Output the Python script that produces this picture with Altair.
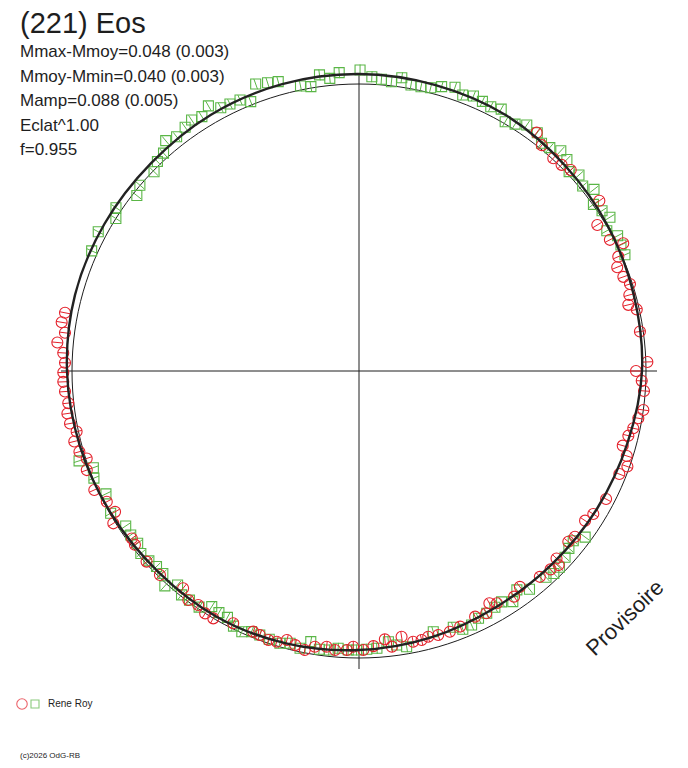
import altair as alt
import pandas as pd

# ---------------- text ----------------
TITLE = "(221) Eos"
STATS = [
    "Mmax-Mmoy=0.048 (0.003)",
    "Mmoy-Mmin=0.040 (0.003)",
    "Mamp=0.088 (0.005)",
    "Eclat^1.00",
    "f=0.955",
]
OBSERVER = "Rene Roy"
CREDIT = "(c)2026 OdG-RB"
STAMP = "Provisoire"

# ---------------- data (polar: angle in degrees, radius in plot units) ----------------
REF_RADIUS = 287      # mean-magnitude reference circle
AXIS_HALF = 298       # half length of the cross axes
ERR_HALF = 5.5        # half length of the radial error ticks

CIRCLE_ANGLE = [
    53.3, 51.0, 47.6, 45.5, 43.5, 35.3, 31.5, 27.6, 25.8, 23.8, 21.9, 19.6, 17.8, 15.7,
    13.8, 12.5, 8.0, 1.8, 0.0, 358.0, 356.0, 352.2, 350.4, 348.2, 346.5, 344.2, 342.4,
    340.4, 338.4, 332.6, 328.6, 326.5, 322.5, 320.8, 316.5, 315.8, 314.0, 311.3, 306.7,
    304.5, 300.7, 299.3, 297.7, 295.3, 291.6, 289.2, 286.7, 284.6, 283.1, 281.3, 279.1,
    275.5, 276.8, 273.0, 270.9, 268.8, 267.5, 265.1, 263.3, 260.9, 259.0, 256.9, 255.0,
    253.1, 251.4, 249.4, 247.9, 243.5, 239.5, 237.6, 235.5, 233.3, 231.0, 225.7, 221.9,
    217.8, 216.4, 211.8, 210.0, 207.4, 204.2, 200.0, 197.8, 196.1, 193.9, 192.1, 190.3,
    188.3, 186.3, 184.0, 182.1, 180.3, 178.4, 176.5, 174.6, 172.6, 170.7, 168.8,
]
CIRCLE_RADIUS = [
    297.3, 290.6, 288.1, 289.0, 291.9, 294.5, 279.5, 283.1, 293.5, 283.4, 278.3, 280.6, 284.6, 280.8,
    277.3, 284.5, 283.7, 288.5, 277.0, 282.9, 285.7, 287.0, 283.3, 280.2, 277.0, 274.1, 280.9,
    284.9, 280.0, 278.3, 274.5, 271.1, 272.2, 270.1, 272.3, 278.4, 275.8, 274.0, 269.2,
    273.8, 270.1, 266.4, 273.6, 271.7, 274.9, 276.1, 275.7, 274.6, 276.2, 276.1, 269.1,
    269.6, 277.6, 275.5, 279.0, 275.8, 279.3, 280.0, 277.6, 279.2, 284.2, 281.4, 278.5,
    282.9, 283.9, 282.0, 281.3, 281.9, 287.1, 287.1, 283.9, 285.6, 279.5, 285.0, 285.4,
    283.6, 282.2, 289.1, 281.7, 284.1, 290.2, 289.7, 286.0, 291.0, 293.3, 288.8, 293.7,
    294.7, 292.5, 294.7, 295.9, 295.7, 294.1, 296.3, 303.0, 296.5, 301.3, 299.7,
]

SQUARE_ANGLE = [
    155.8, 151.9, 147.9, 146.1, 141.7, 139.7, 135.8, 133.9, 131.9, 130.0, 127.9, 125.5,
    123.7, 121.7, 119.6, 117.7, 115.8, 113.7, 111.9, 109.8, 107.6, 105.6, 101.6, 99.6,
    97.6, 95.7, 93.8, 89.8, 87.5, 85.6, 83.6, 81.7, 79.7, 77.7, 75.8, 73.8, 71.3, 69.4,
    67.4, 65.4, 63.5, 61.5, 59.6, 57.7, 55.7, 53.2, 51.3, 49.5, 47.5, 45.5, 43.5, 41.7,
    39.6, 37.7, 35.4, 33.4, 31.5, 29.5, 27.6, 25.7, 23.6,
    323.7, 321.6, 319.8, 317.9, 315.6, 313.9, 312.2, 308.0, 305.8, 303.7, 301.7, 299.9,
    297.8, 295.8, 293.9, 291.9, 290.2, 285.9, 279.8, 277.8, 276.2, 273.7, 271.6, 269.5,
    267.8, 265.7, 263.9, 261.9, 259.9, 258.0, 255.8, 253.8, 251.5, 249.4, 247.6, 245.8,
    243.8, 241.9, 239.9, 238.0, 235.9, 233.5, 231.6, 229.7, 227.9, 225.9, 224.0, 222.1,
    219.9, 217.9, 215.7, 213.6, 209.8, 205.9, 202.0, 200.0, 197.8,
]
SQUARE_RADIUS = [
    293.1, 295.6, 287.0, 292.8, 283.1, 287.3, 285.9, 290.7, 292.7, 300.7, 296.9, 299.4,
    301.7, 299.0, 304.9, 297.4, 296.5, 296.0, 290.3, 305.0, 302.4, 300.4, 290.9, 288.4,
    298.7, 294.1, 299.0, 301.0, 294.6, 292.6, 291.1, 296.4, 290.7, 291.0, 292.2, 296.1, 299.5, 294.8,
    297.8, 296.5, 295.3, 298.0, 288.9, 292.1, 297.7, 297.6, 291.9, 293.8, 298.7, 296.6, 289.7, 294.6,
    290.3, 297.0, 287.6, 291.1, 294.3, 284.7, 291.8, 290.7, 290.2,
    280.6, 273.4, 274.8, 277.7, 280.5, 281.0, 278.4, 276.9, 269.9, 277.2, 271.3, 272.6,
    273.9, 274.6, 277.9, 278.3, 273.1, 271.1, 279.8, 276.6, 272.3, 277.9, 278.4, 279.0,
    279.2, 278.1, 280.6, 281.1, 274.9, 283.5, 280.9, 283.5, 282.9, 282.0, 281.9, 285.9,
    284.3, 279.3, 279.3, 277.9, 285.2, 285.0, 285.7, 280.5, 289.6, 281.9, 281.5, 283.2,
    284.4, 280.5, 281.1, 280.1, 286.2, 281.3, 285.9, 282.7, 294.0,
]

FIT_ANGLE = [0, 15, 30, 45, 60, 75, 90, 105, 120, 135, 150, 165,
             180, 195, 210, 225, 240, 255, 270, 285, 300, 315, 330, 345]
FIT_RADIUS = [283, 285, 288, 291, 295, 296, 297, 297, 296, 294, 294, 294,
              292, 289, 286, 284, 284, 282, 279, 276, 273, 273, 275, 278]

RED = "#e4222c"
GREEN = "#5ab646"
INK = "#1e1e1e"
FONT = "Liberation Sans"

# ---------------- layout ----------------
W, H = 672, 752
CX, CY = 351, 363                     # pole position inside the plot area
xs = alt.Scale(domain=[-CX, W - CX], nice=False, zero=False)
ys = alt.Scale(domain=[-(H - CY), CY], nice=False, zero=False)

def X(f):
    return alt.X(f + ":Q", scale=xs, axis=None)

def Y(f):
    return alt.Y(f + ":Q", scale=ys, axis=None)

polar = dict(
    x="datum.radius*cos(datum.angle*PI/180)",
    y="datum.radius*sin(datum.angle*PI/180)",
    xa=f"(datum.radius-{ERR_HALF})*cos(datum.angle*PI/180)",
    ya=f"(datum.radius-{ERR_HALF})*sin(datum.angle*PI/180)",
    xb=f"(datum.radius+{ERR_HALF})*cos(datum.angle*PI/180)",
    yb=f"(datum.radius+{ERR_HALF})*sin(datum.angle*PI/180)",
)

circles = pd.DataFrame({"angle": CIRCLE_ANGLE, "radius": CIRCLE_RADIUS})
squares = pd.DataFrame({"angle": SQUARE_ANGLE, "radius": SQUARE_RADIUS})
fit = pd.DataFrame({"angle": FIT_ANGLE, "radius": FIT_RADIUS})
axes = pd.DataFrame({"x": [-AXIS_HALF, 0], "y": [0, -AXIS_HALF],
                     "x2": [AXIS_HALF, 0], "y2": [0, AXIS_HALF]})

axis_layer = alt.Chart(axes).mark_rule(color=INK, strokeWidth=1).encode(
    x=X("x"), y=Y("y"), x2="x2:Q", y2="y2:Q")

ref_circle = (
    alt.Chart(alt.sequence(0, 361, 2, as_="angle"))
    .transform_calculate(radius=str(REF_RADIUS))
    .transform_calculate(**polar)
    .mark_line(color=INK, strokeWidth=1)
    .encode(x=X("x"), y=Y("y"), order=alt.Order("angle:Q"))
)

def series(df, color, shape, size):
    base = alt.Chart(df).transform_calculate(**polar)
    ticks = base.mark_rule(color=color, strokeWidth=1).encode(
        x=X("xa"), y=Y("ya"), x2="xb:Q", y2="yb:Q")
    pts = base.mark_point(shape=shape, size=size, filled=False, color=color,
                          strokeWidth=1.1, opacity=1).encode(x=X("x"), y=Y("y"))
    return ticks + pts

fit_line = (
    alt.Chart(fit)
    .transform_calculate(**polar)
    .mark_line(color="#222222", strokeWidth=2.4, interpolate="cardinal-closed")
    .encode(x=X("x"), y=Y("y"), order=alt.Order("angle:Q"))
)

one = pd.DataFrame({"k": [0]})

def label(text, x, y, size, **kw):
    return alt.Chart(one).mark_text(
        text=text, font=FONT, fontSize=size, color=INK, align="left",
        baseline="alphabetic", **kw).encode(x=alt.value(x), y=alt.value(y))

texts = [label(TITLE, 12, 25, 29)]
for i, s in enumerate(STATS):
    texts.append(label(s, 12, 49 + i * 24.5, 17))
texts.append(label(OBSERVER, 40, 699, 10))
texts.append(label(CREDIT, 12, 750, 8))
texts.append(
    alt.Chart(one).mark_text(text=STAMP, font=FONT, fontSize=22, color=INK,
                             align="center", baseline="middle", angle=316)
    .encode(x=alt.value(617), y=alt.value(610))
)

legend_c = alt.Chart(one).mark_point(shape="circle", size=110, filled=False,
                                     color=RED, strokeWidth=1.1).encode(
    x=alt.value(14), y=alt.value(696))
legend_s = alt.Chart(one).mark_point(shape="square", size=64, filled=False,
                                     color=GREEN, strokeWidth=1.1).encode(
    x=alt.value(27), y=alt.value(696))

chart = alt.layer(
    axis_layer, ref_circle,
    series(squares, GREEN, "square", 100),
    series(circles, RED, "circle", 121),
    fit_line,
    legend_c, legend_s, *texts,
).properties(
    width=W, height=H, padding=0,
    autosize=alt.AutoSizeParams(type="none"),
).configure_view(strokeWidth=0)

chart.save("out.html", embed_options={"renderer": "svg", "actions": False})
